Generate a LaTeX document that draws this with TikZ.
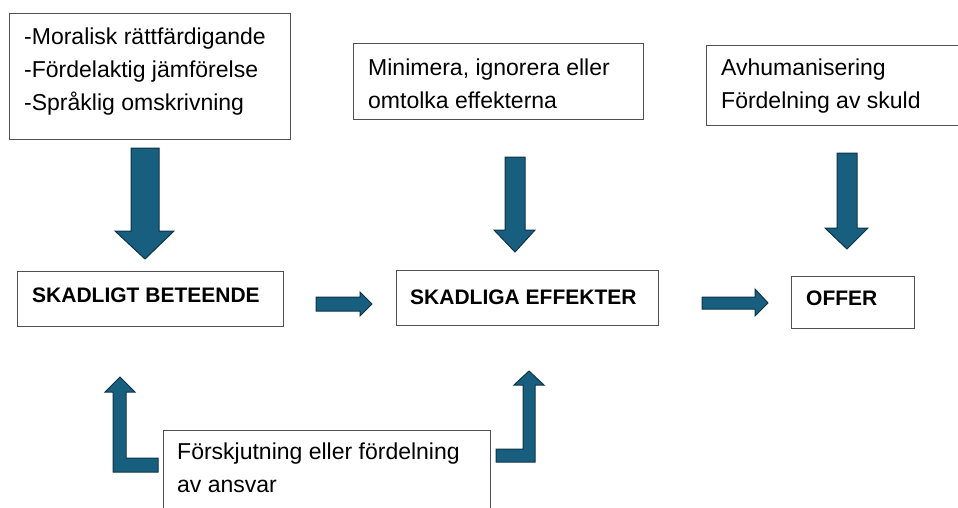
\documentclass[tikz,border=0pt]{standalone}
\usepackage{fontspec}
\setmainfont{Liberation Sans}
\definecolor{pil}{HTML}{185E7F}
\definecolor{pilkant}{HTML}{0F3447}
\definecolor{ram}{HTML}{505050}

\begin{document}
\begin{tikzpicture}[x=1pt, y=-1pt,
	ruta/.style={draw=ram, line width=1.1pt, anchor=north west, inner sep=0pt},
	brodtext/.style={anchor=north west, inner sep=0pt, align=left, font=\fontsize{23}{33}\selectfont},
	rubrik/.style={anchor=base west, inner sep=0pt, font=\fontsize{21}{25}\selectfont\bfseries},
	blockpil/.style={fill=pil, draw=pilkant, line width=1pt, line join=miter}]
	\useasboundingbox (0,0) rectangle (958,507);
	\clip (0,0) rectangle (958,507);
	
	\node[ruta, minimum width=281, minimum height=126] (moral) at (9,13) {};
	\node[ruta, minimum width=290, minimum height=76] (minimera) at (353,43) {};
	\node[ruta, minimum width=262, minimum height=80] (avhum) at (706,45) {};
	\node[ruta, minimum width=266, minimum height=55] (beteende) at (17,271) {};
	\node[ruta, minimum width=262, minimum height=55] (effekter) at (396,270) {};
	\node[ruta, minimum width=123, minimum height=52] (offer) at (791,276) {};
	\node[ruta, minimum width=327, minimum height=100] (ansvar) at (163,430) {};
	
	\node[brodtext] (moraltext) at (24,28) {-Moralisk rättfärdigande\\-Fördelaktig jämförelse\\-Språklig omskrivning};
	\node[brodtext] (minimeratext) at (368,59) {Minimera, ignorera eller\\omtolka effekterna};
	\node[brodtext] (avhumtext) at (721,59) {Avhumanisering\\Fördelning av skuld};
	\node[brodtext] (ansvartext) at (177,443) {Förskjutning eller fördelning\\av ansvar};
	\node[rubrik] (beteendetext) at (32,302) {SKADLIGT BETEENDE};
	\node[rubrik] (effektertext) at (410,304) {SKADLIGA EFFEKTER};
	\node[rubrik] (offertext) at (806,305) {OFFER};
	
	\draw[blockpil] (131,148) -- (159,148) -- (159,231) -- (174,231) -- (145,259) -- (115,231) -- (131,231) -- cycle;
	\draw[blockpil] (505,157) -- (525,157) -- (525,230) -- (535,230) -- (515,252) -- (494,230) -- (505,230) -- cycle;
	\draw[blockpil] (837,153) -- (857,153) -- (857,228) -- (868,228) -- (847,249) -- (825,228) -- (837,228) -- cycle;
	\draw[blockpil] (316,297) -- (360,297) -- (360,292) -- (372,304) -- (360,316) -- (360,311) -- (316,311) -- cycle;
	\draw[blockpil] (702,297) -- (755,297) -- (755,289) -- (768,303) -- (755,316) -- (755,309) -- (702,309) -- cycle;
	\draw[blockpil] (120,377) -- (135,392) -- (126,392) -- (126,458) -- (158,458) -- (158,472) -- (113,472) -- (113,392) -- (105,392) -- cycle;
	\draw[blockpil] (529,371) -- (544,385) -- (535,385) -- (535,462) -- (496,462) -- (496,449) -- (523,449) -- (523,385) -- (514,385) -- cycle;
\end{tikzpicture}
\end{document}
